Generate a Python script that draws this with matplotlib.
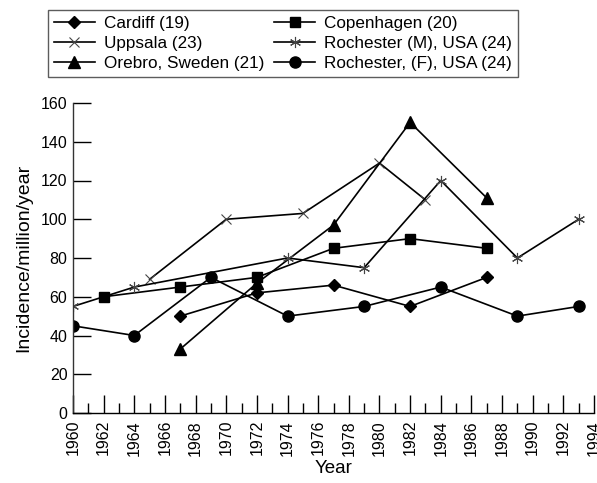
import matplotlib
matplotlib.use('Agg')
import matplotlib.pyplot as plt
from matplotlib.ticker import MultipleLocator

plt.rcParams['font.family'] = ['Liberation Sans', 'DejaVu Sans']

cardiff_years = [1967, 1972, 1977, 1982, 1987]
cardiff_vals = [50, 62, 66, 55, 70]

copenhagen_years = [1962, 1967, 1972, 1977, 1982, 1987]
copenhagen_vals = [60, 65, 70, 85, 90, 85]

uppsala_years = [1965, 1970, 1975, 1980, 1983]
uppsala_vals = [69, 100, 103, 129, 110]

roch_m_years = [1960, 1964, 1974, 1979, 1984, 1989, 1993]
roch_m_vals = [55, 65, 80, 75, 120, 80, 100]

orebro_years = [1967, 1972, 1977, 1982, 1987]
orebro_vals = [33, 67, 97, 150, 111]

roch_f_years = [1960, 1964, 1969, 1974, 1979, 1984, 1989, 1993]
roch_f_vals = [45, 40, 70, 50, 55, 65, 50, 55]

fig = plt.figure(figsize=(5.97, 4.83), dpi=100)
ax = fig.add_axes([73/597, 1 - 413/483, (594-73)/597, (413-103)/483])

lw = 1.2
ax.plot(cardiff_years, cardiff_vals, color='black', lw=lw, marker='D', ms=6, label='Cardiff (19)')
ax.plot(uppsala_years, uppsala_vals, color='black', lw=lw, marker='x', ms=7, mew=0.8, mec='#444444', label='Uppsala (23)')
ax.plot(orebro_years, orebro_vals, color='black', lw=lw, marker='^', ms=8, label='Orebro, Sweden (21)')
ax.plot(copenhagen_years, copenhagen_vals, color='black', lw=lw, marker='s', ms=7, label='Copenhagen (20)')
ax.plot(roch_m_years, roch_m_vals, color='black', lw=lw, marker=(6, 2, 0), ms=8, mew=0.8, mec='#444444', label='Rochester (M), USA (24)')
ax.plot(roch_f_years, roch_f_vals, color='black', lw=lw, marker='o', ms=8, label='Rochester, (F), USA (24)')

ax.set_xlim(1960, 1994)
ax.set_ylim(0, 160)
ax.xaxis.set_major_locator(MultipleLocator(2))
ax.xaxis.set_minor_locator(MultipleLocator(1))
ax.yaxis.set_major_locator(MultipleLocator(20))
ax.tick_params(axis='x', which='major', direction='in', length=13, width=1, labelsize=11.5, rotation=90, pad=5)
ax.tick_params(axis='x', which='minor', direction='in', length=7, width=1)
ax.tick_params(axis='y', which='major', direction='in', length=13, width=1, labelsize=11.5, pad=4)
for s in ['top', 'right']:
    ax.spines[s].set_visible(False)
ax.spines['left'].set_linewidth(1)
ax.spines['bottom'].set_linewidth(1)
ax.spines['left'].set_color('#333333')
ax.spines['bottom'].set_color('black')

ax.set_xlabel('Year', fontsize=13.5, labelpad=3)
ax.set_ylabel('Incidence/million/year', fontsize=14, labelpad=6)

leg = fig.legend(loc='upper left', bbox_to_anchor=(48/597, 1 - 10/483), ncol=2,
                 fontsize=12.3, frameon=True, fancybox=False, edgecolor='#333333',
                 handlelength=2.4, handletextpad=0.5, columnspacing=0.6,
                 labelspacing=0.3, borderpad=0.35, borderaxespad=0)
leg.get_frame().set_linewidth(1)

fig.savefig('out.png', dpi=100)
